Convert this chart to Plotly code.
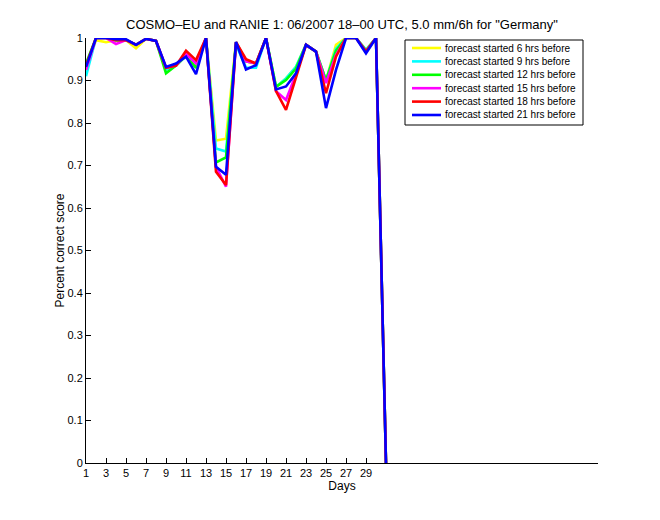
import plotly.graph_objects as go

days = list(range(1, 32))

yellow = [0.930, 0.995, 0.990, 0.995, 0.995, 0.976, 0.998, 0.993, 0.925, 0.935, 0.960, 0.930, 1.0,
          0.759, 0.763, 0.990, 0.945, 0.940, 1.0, 0.885, 0.905, 0.932, 0.984, 0.968, 0.900, 0.984,
          1.0, 1.0, 0.972, 1.0, 0.0]
cyan = [0.910, 1.0, 1.0, 0.995, 0.995, 0.984, 0.998, 0.993, 0.925, 0.935, 0.958, 0.930, 1.0,
        0.740, 0.733, 0.985, 0.930, 0.930, 1.0, 0.885, 0.905, 0.932, 0.984, 0.968, 0.900, 0.975,
        1.0, 1.0, 0.972, 1.0, 0.0]
green = [0.940, 1.0, 1.0, 0.995, 0.995, 0.984, 0.998, 0.993, 0.917, 0.935, 0.958, 0.930, 1.0,
         0.707, 0.719, 0.990, 0.945, 0.940, 1.0, 0.885, 0.901, 0.928, 0.984, 0.968, 0.900, 0.970,
         1.0, 1.0, 0.970, 1.0, 0.0]
magenta = [0.925, 1.0, 1.0, 0.986, 0.995, 0.984, 0.998, 0.993, 0.930, 0.935, 0.962, 0.940, 1.0,
           0.697, 0.650, 0.990, 0.945, 0.940, 1.0, 0.875, 0.854, 0.915, 0.984, 0.968, 0.894, 0.960,
           1.0, 1.0, 0.968, 1.0, 0.0]
red = [0.935, 1.0, 1.0, 0.995, 0.995, 0.984, 0.998, 0.993, 0.930, 0.935, 0.970, 0.948, 1.0,
       0.685, 0.654, 0.990, 0.950, 0.940, 1.0, 0.875, 0.831, 0.910, 0.984, 0.968, 0.870, 0.956,
       1.0, 1.0, 0.968, 1.0, 0.0]
blue = [0.932, 1.0, 1.0, 0.997, 0.997, 0.984, 0.998, 0.993, 0.932, 0.940, 0.956, 0.915, 1.0,
        0.697, 0.678, 0.991, 0.926, 0.936, 1.0, 0.879, 0.886, 0.917, 0.984, 0.968, 0.835, 0.925,
        1.0, 1.0, 0.964, 1.0, 0.0]

names = ["forecast started 6 hrs before", "forecast started 9 hrs before",
         "forecast started 12 hrs before", "forecast started 15 hrs before",
         "forecast started 18 hrs before", "forecast started 21 hrs before"]
values = [yellow, cyan, green, magenta, red, blue]
colors = ["#ffff00", "#00ffff", "#00ff00", "#ff00ff", "#ff0000", "#0000ff"]

xticks = list(range(1, 30, 2))
yticks = [i / 10 for i in range(11)]
yticklabels = ["0"] + [f"{v:.1f}" for v in yticks[1:-1]] + ["1"]

# plot-area geometry (pixels) used to place the hand-made legend
L, R, T, B = 86, 598, 38, 463
def px(x):
    return (x - L) / (R - L)
def py(y):
    return (B - y) / (B - T)

fig = go.Figure()
for name, vals, color in zip(names, values, colors):
    fig.add_trace(go.Scatter(x=days, y=vals, mode="lines", name=name,
                             line=dict(color=color, width=2.6), showlegend=False))

font = "Liberation Sans, Arial, Helvetica, sans-serif"

# legend box
shapes = [dict(type="rect", xref="paper", yref="paper",
               x0=px(405), x1=px(583), y0=py(125), y1=py(40),
               line=dict(color="black", width=1), fillcolor="white", layer="above")]
annotations = []
for i, (name, color) in enumerate(zip(names, colors)):
    yy = 48 + i * 13.4
    shapes.append(dict(type="line", xref="paper", yref="paper",
                       x0=px(412), x1=px(441), y0=py(yy), y1=py(yy),
                       line=dict(color=color, width=2.6), layer="above"))
    annotations.append(dict(text=name, xref="paper", yref="paper", x=px(443), y=py(yy),
                            xanchor="left", yanchor="middle", showarrow=False,
                            font=dict(size=10, family=font, color="black")))

fig.update_layout(
    width=660, height=520,
    margin=dict(l=L, r=660 - R, t=T, b=520 - B),
    paper_bgcolor="white", plot_bgcolor="white",
    font=dict(family=font, size=11, color="black"),
    title=dict(text='COSMO\u2013EU and RANIE 1: 06/2007 18\u201300 UTC, 5.0 mm/6h for "Germany"',
               x=342 / 660, xanchor="center", y=1 - 24 / 520, yanchor="middle",
               font=dict(size=13, family=font, color="black")),
    showlegend=False,
    shapes=shapes,
    annotations=annotations,
)
fig.update_xaxes(range=[1, 52.2], tickmode="array", tickvals=xticks,
                 ticktext=[str(t) for t in xticks],
                 ticks="inside", ticklen=5, tickcolor="black", showgrid=False,
                 zeroline=False, showline=True, linecolor="black", linewidth=1,
                 title=dict(text="Days", font=dict(size=12, family=font), standoff=2),
                 tickfont=dict(size=11))
fig.update_yaxes(range=[0, 1], tickmode="array", tickvals=yticks, ticktext=yticklabels,
                 ticks="inside", ticklen=5, tickcolor="black", showgrid=False,
                 zeroline=False, showline=True, linecolor="black", linewidth=1,
                 title=dict(text="Percent correct score", font=dict(size=12, family=font), standoff=0),
                 tickfont=dict(size=11))

fig.write_html("out.html")
